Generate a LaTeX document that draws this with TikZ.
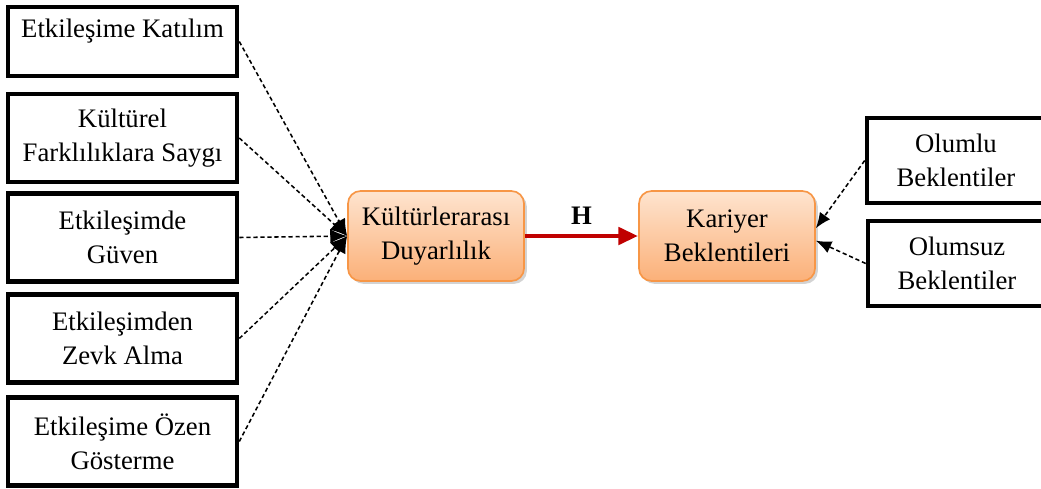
\documentclass[tikz,border=0pt]{standalone}
\usepackage{fontspec}
\setmainfont{Liberation Serif}
\usetikzlibrary{arrows.meta,shadows,positioning}

% couleurs des blocs centraux
\definecolor{orangeBord}{HTML}{F79646}
\definecolor{orangeHaut}{HTML}{FEE4CF}
\definecolor{orangeBas}{HTML}{FBB078}
\definecolor{rougeFleche}{HTML}{C00000}

\begin{document}
\begin{tikzpicture}[x=0.025cm,y=-0.025cm,
    boite/.style={draw=black,line width=3.2pt,align=center,inner sep=0pt,
        font=\fontsize{19}{24}\selectfont,minimum width=5.725cm,minimum height=2.2cm},
    central/.style={draw=orangeBord,line width=1.2pt,rounded corners=9pt,
        top color=orangeHaut,bottom color=orangeBas,
        drop shadow={opacity=0.35,shadow xshift=2pt,shadow yshift=-2pt},
        align=center,inner sep=0pt,font=\fontsize{19}{24}\selectfont,
        minimum width=4.4cm,minimum height=2.25cm},
    lien/.style={line width=1.1pt,dash pattern=on 3pt off 2pt,
        -{Latex[length=12pt,width=10pt]}}]

\useasboundingbox (0,0) rectangle (1041,488);

%%%%%%%%%%%%%%%%%%%%%%%%
% dimensions a gauche
%%%%%%%%%%%%%%%%%%%%%%%%
\node[boite,minimum height=1.725cm,text depth=19pt] (katilim) at (122.5,41.5) {Etkileşime Katılım};
\node[boite] (saygi) at (122.5,138) {Kültürel\\Farklılıklara Saygı};
\node[boite] (guven) at (122.5,237.5) {Etkileşimde\\Güven};
\node[boite] (zevk) at (122.5,338.5) {Etkileşimden\\Zevk Alma};
\node[boite] (ozen) at (122.5,441.5) {Etkileşime Özen\\Gösterme};

%%%%%%%%%%%%%%%%%%%%%%%%
% blocs centraux
%%%%%%%%%%%%%%%%%%%%%%%%
\node[central] (duyarlilik) at (436,236) {Kültürlerarası\\Duyarlılık};
\node[central] (kariyer) at (727,236) {Kariyer\\Beklentileri};

%%%%%%%%%%%%%%%%%%%%%%%%
% beklentiler a droite
%%%%%%%%%%%%%%%%%%%%%%%%
\node[boite,minimum width=4.45cm,minimum height=2.125cm] (olumlu) at (956,160.5) {Olumlu\\Beklentiler};
\node[boite,minimum width=4.45cm,minimum height=2.125cm] (olumsuz) at (957,263.5) {Olumsuz\\Beklentiler};

% liens en pointilles
\foreach \n in {katilim,saygi,guven,zevk,ozen}
    \draw[lien] (\n.east) -- (duyarlilik.west);
\draw[lien,-{Latex[length=11pt,width=9pt]}] (olumlu.west) -- (kariyer.5);
\draw[lien,-{Latex[length=11pt,width=9pt]}] (olumsuz.west) -- (kariyer.-3);

% hypothese H
\draw[rougeFleche,line width=3.5pt,-{Triangle[length=14pt,width=12pt]}] (duyarlilik.east) -- node[above=3pt,black,font=\fontsize{19}{24}\selectfont\bfseries] (hyp) {H} (kariyer.west);

\end{tikzpicture}
\end{document}
